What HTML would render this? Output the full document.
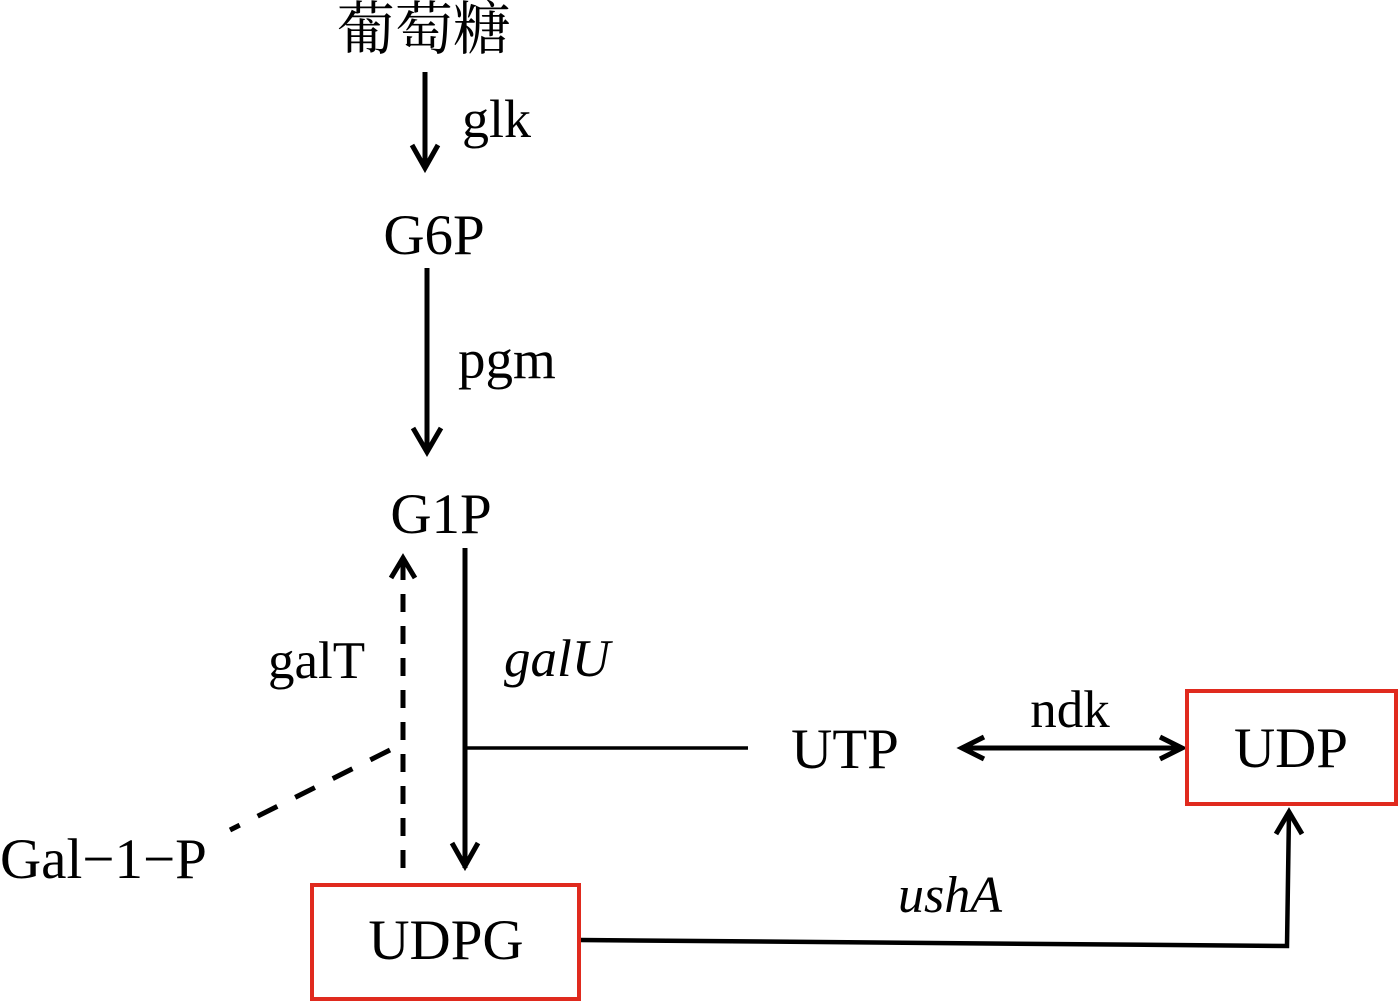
<!DOCTYPE html>
<html><head><meta charset="utf-8"><style>
html,body{margin:0;padding:0;background:#fff;}
svg{display:block;}
text{font-family:"Liberation Serif","Noto Serif CJK SC",serif;fill:#000;}
</style></head><body>
<svg width="1399" height="1003" viewBox="0 0 1399 1003" xmlns="http://www.w3.org/2000/svg">
<g font-size="57">
<text x="424" y="49" text-anchor="middle" font-size="58">葡萄糖</text>
<text x="462" y="137" font-size="54">glk</text>
<text x="434" y="254" text-anchor="middle">G6P</text>
<text x="458" y="378" font-size="55">pgm</text>
<text x="441" y="533" text-anchor="middle">G1P</text>
<text x="504" y="676" font-size="53" font-style="italic">galU</text>
<text x="268" y="678" font-size="53">galT</text>
<text x="845" y="768" text-anchor="middle">UTP</text>
<text x="1070" y="727" text-anchor="middle" font-size="53">ndk</text>
<text x="1291" y="767" text-anchor="middle">UDP</text>
<text x="0" y="878" font-size="57">Gal−1−P</text>
<text x="446" y="959" text-anchor="middle">UDPG</text>
<text x="898" y="912" font-size="52" font-style="italic">ushA</text>
</g>
<g stroke="#000" fill="none" stroke-width="5">
<line x1="425" y1="72" x2="425" y2="168"/>
<polyline points="412,145 425,168 438,145"/>
<line x1="427" y1="268" x2="427" y2="452"/>
<polyline points="413,428 427,452 441,428"/>
<line x1="465" y1="548" x2="465" y2="868"/>
<polyline points="452,843 465,866 478,843"/>
<line x1="465" y1="748" x2="748" y2="748" stroke-width="3.5"/>
<line x1="962" y1="748" x2="1182" y2="748"/>
<polyline points="984,737 962,748 984,759"/>
<polyline points="1160,737 1182,748 1160,759"/>
<line x1="403" y1="868" x2="403" y2="562" stroke-dasharray="18,14"/>
<polyline points="391,578 403,558 415,578"/>
<line x1="390" y1="750" x2="230" y2="830" stroke-dasharray="22,20"/>
<polyline points="580,940 1287,946 1289,812" stroke-width="4.5"/>
<polyline points="1276,834 1289,812 1302,834"/>
</g>
<rect x="1187" y="691" width="209" height="113" fill="none" stroke="#e02a1e" stroke-width="4"/>
<rect x="312" y="885" width="267" height="114" fill="none" stroke="#e02a1e" stroke-width="4"/>
</svg>
</body></html>
